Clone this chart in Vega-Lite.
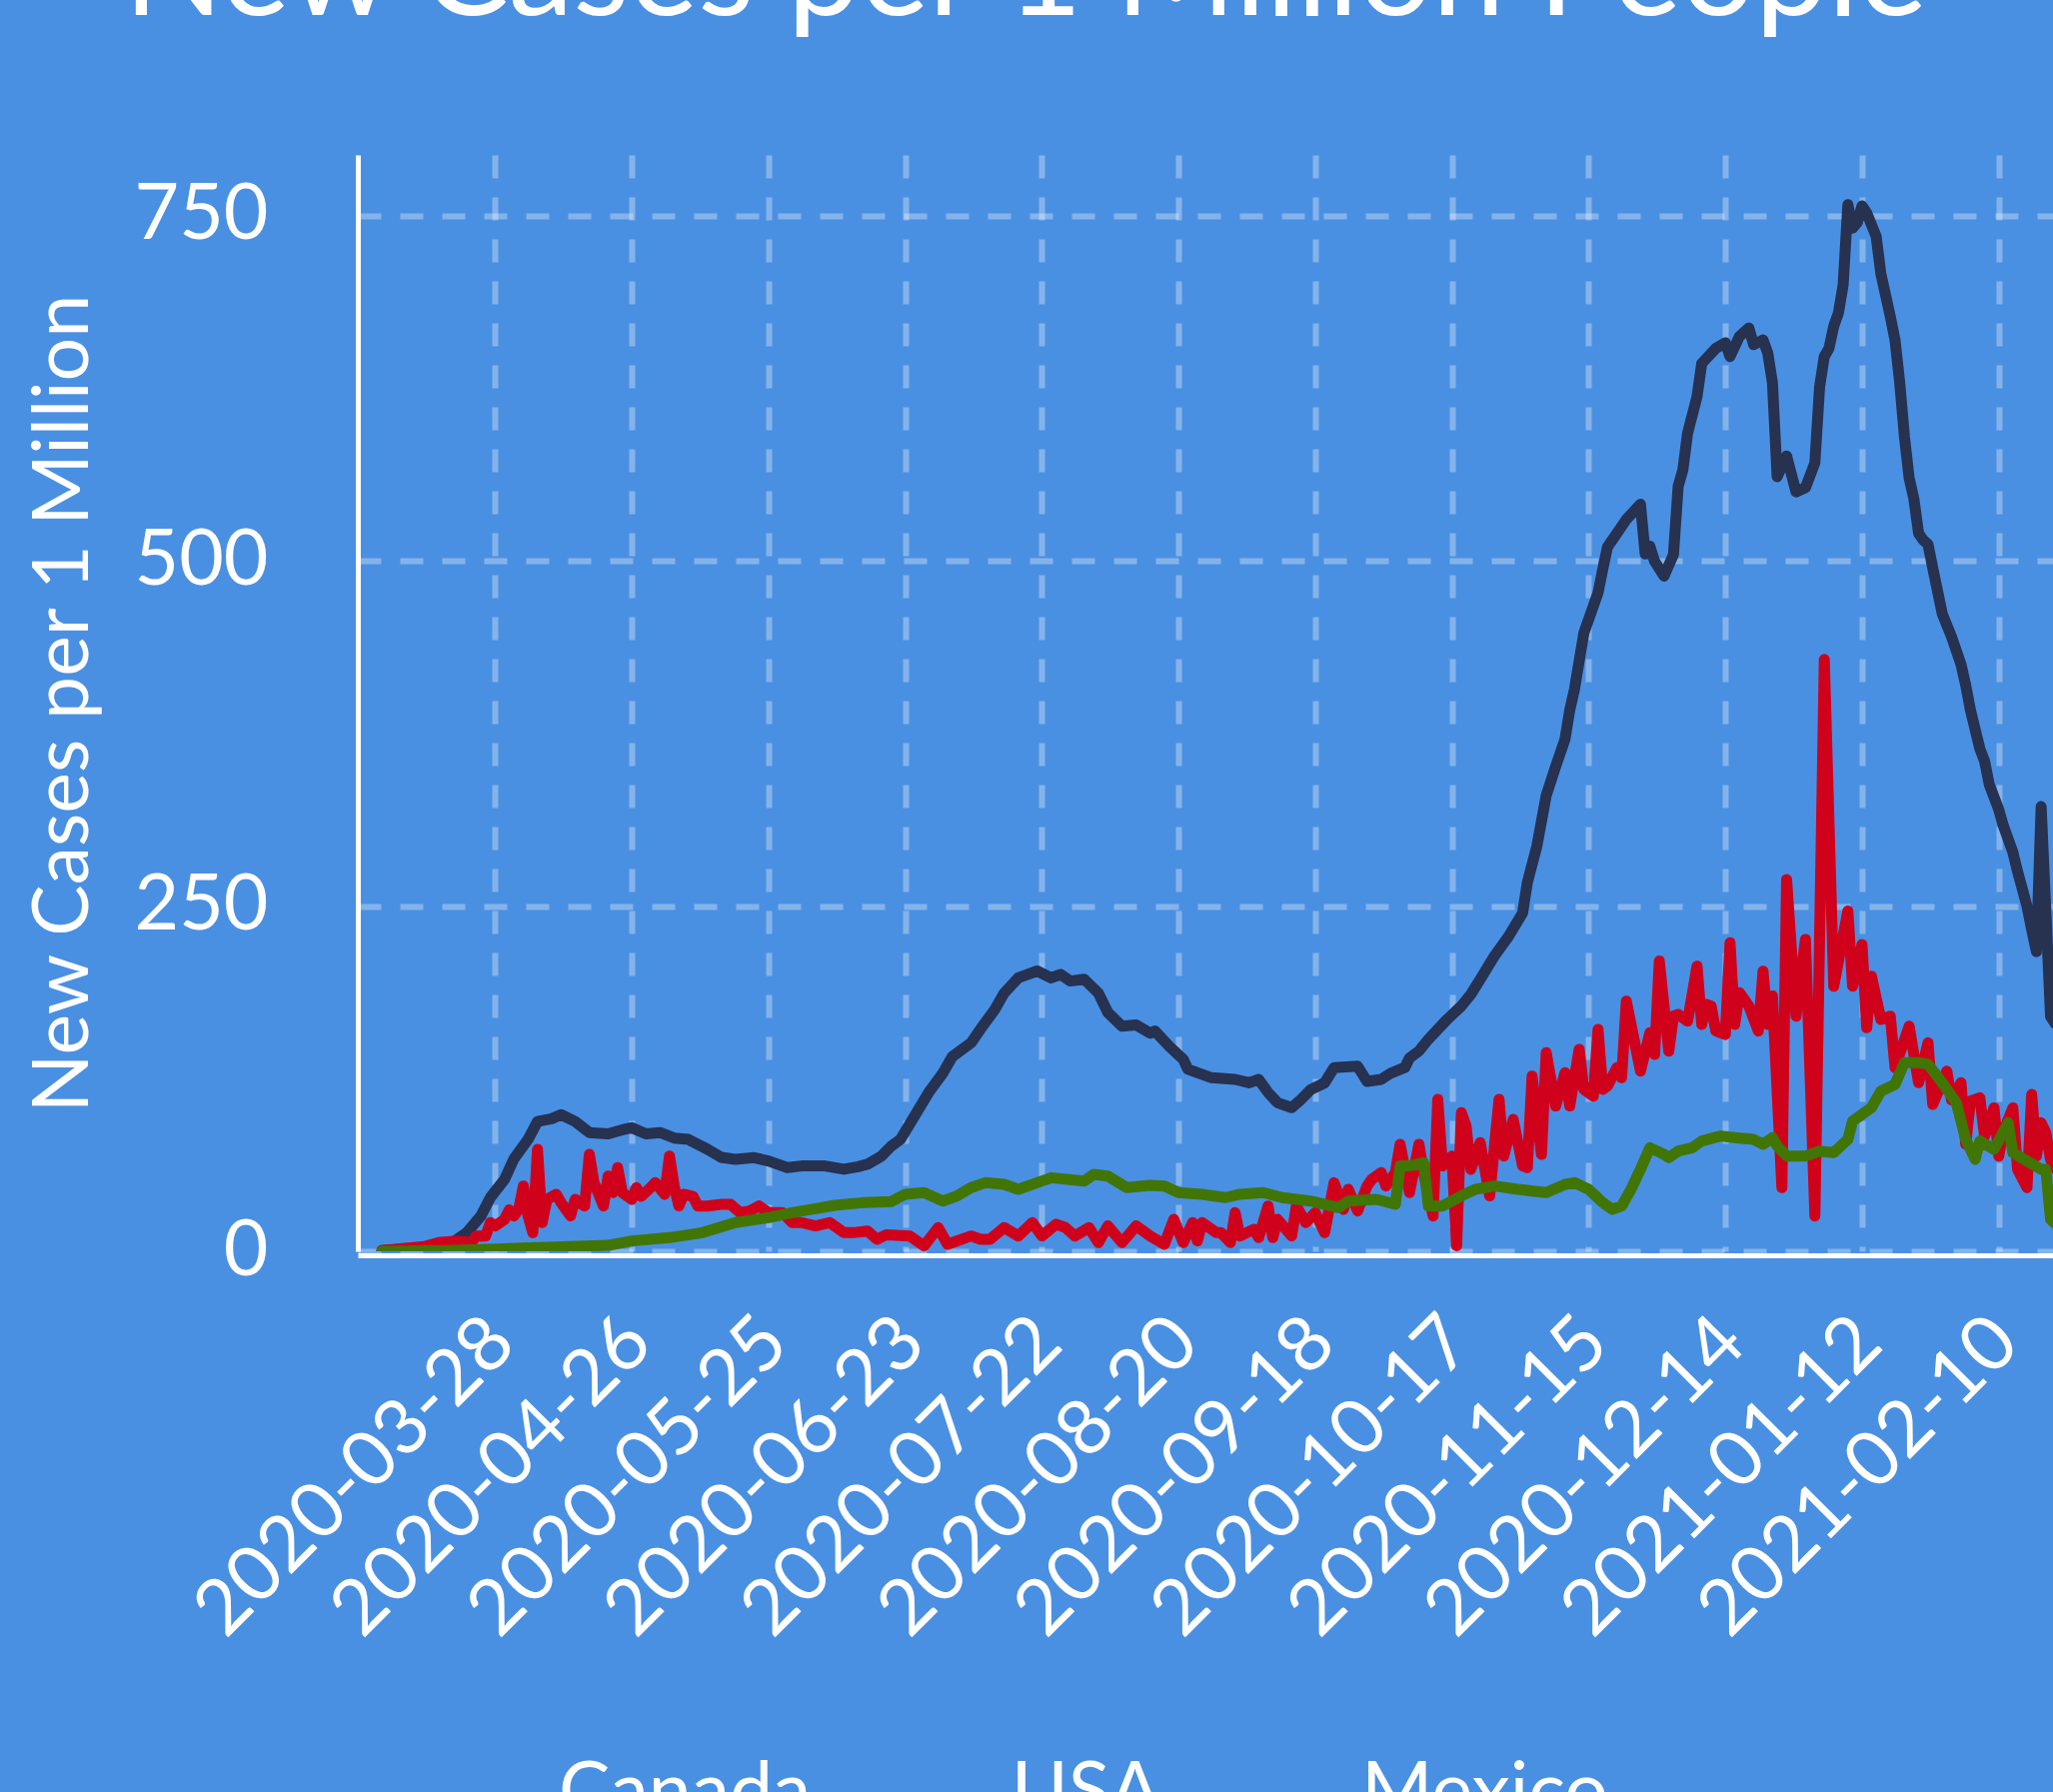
{
"$schema": "https://vega.github.io/schema/vega-lite/v6.json",
"width": 1696, "height": 1097,
"autosize": {"type": "none"},
"padding": {"left": 358, "top": 155, "right": 0, "bottom": 541},
"background": "#4a90e2",
"title": {"text": "New Cases per 1 Million People", "font": "Lato", "fontSize": 130, "fontWeight": "normal", "color": "white", "anchor": "middle", "frame": "group", "dx": -180, "baseline": "alphabetic", "offset": 10, "limit": 0},
"config": {"view": {"stroke": null}, "font": "Lato"},
"data": {"values": [
{"country":"USA","date":"2020-03-04","cases":0.5},{"country":"USA","date":"2020-03-14","cases":2.7},{"country":"USA","date":"2020-03-19","cases":6.3},{"country":"USA","date":"2020-03-22","cases":13.5},{"country":"USA","date":"2020-03-25","cases":25.6},{"country":"USA","date":"2020-03-27","cases":38.9},{"country":"USA","date":"2020-03-30","cases":52},{"country":"USA","date":"2020-04-01","cases":67},{"country":"USA","date":"2020-04-04","cases":81},{"country":"USA","date":"2020-04-06","cases":94},{"country":"USA","date":"2020-04-09","cases":96},{"country":"USA","date":"2020-04-11","cases":99},{"country":"USA","date":"2020-04-14","cases":94},{"country":"USA","date":"2020-04-17","cases":86},{"country":"USA","date":"2020-04-21","cases":85},{"country":"USA","date":"2020-04-24","cases":88},{"country":"USA","date":"2020-04-26","cases":89.5},{"country":"USA","date":"2020-04-29","cases":85},{"country":"USA","date":"2020-05-02","cases":86},{"country":"USA","date":"2020-05-05","cases":82},{"country":"USA","date":"2020-05-08","cases":81},{"country":"USA","date":"2020-05-12","cases":74},{"country":"USA","date":"2020-05-15","cases":68},{"country":"USA","date":"2020-05-18","cases":66.6},{"country":"USA","date":"2020-05-22","cases":67.8},{"country":"USA","date":"2020-05-25","cases":65.4},{"country":"USA","date":"2020-05-29","cases":60.6},{"country":"USA","date":"2020-06-01","cases":61.8},{"country":"USA","date":"2020-06-06","cases":61.8},{"country":"USA","date":"2020-06-10","cases":59.4},{"country":"USA","date":"2020-06-13","cases":61.3},{"country":"USA","date":"2020-06-15","cases":63},{"country":"USA","date":"2020-06-18","cases":69},{"country":"USA","date":"2020-06-20","cases":76},{"country":"USA","date":"2020-06-22","cases":81},{"country":"USA","date":"2020-06-25","cases":98},{"country":"USA","date":"2020-06-28","cases":115},{"country":"USA","date":"2020-07-01","cases":129},{"country":"USA","date":"2020-07-03","cases":141},{"country":"USA","date":"2020-07-07","cases":151},{"country":"USA","date":"2020-07-09","cases":161},{"country":"USA","date":"2020-07-12","cases":175},{"country":"USA","date":"2020-07-14","cases":187},{"country":"USA","date":"2020-07-17","cases":198},{"country":"USA","date":"2020-07-21","cases":203},{"country":"USA","date":"2020-07-24","cases":198},{"country":"USA","date":"2020-07-26","cases":200.5},{"country":"USA","date":"2020-07-28","cases":195.7},{"country":"USA","date":"2020-07-31","cases":197},{"country":"USA","date":"2020-08-03","cases":187},{"country":"USA","date":"2020-08-05","cases":173},{"country":"USA","date":"2020-08-08","cases":163},{"country":"USA","date":"2020-08-11","cases":164},{"country":"USA","date":"2020-08-14","cases":158},{"country":"USA","date":"2020-08-15","cases":159.5},{"country":"USA","date":"2020-08-18","cases":148.6},{"country":"USA","date":"2020-08-21","cases":139},{"country":"USA","date":"2020-08-22","cases":131.8},{"country":"USA","date":"2020-08-27","cases":125.7},{"country":"USA","date":"2020-09-01","cases":124.5},{"country":"USA","date":"2020-09-04","cases":122},{"country":"USA","date":"2020-09-06","cases":124.5},{"country":"USA","date":"2020-09-08","cases":115},{"country":"USA","date":"2020-09-10","cases":107.6},{"country":"USA","date":"2020-09-13","cases":104},{"country":"USA","date":"2020-09-15","cases":110},{"country":"USA","date":"2020-09-17","cases":117},{"country":"USA","date":"2020-09-20","cases":122},{"country":"USA","date":"2020-09-22","cases":133},{"country":"USA","date":"2020-09-27","cases":134},{"country":"USA","date":"2020-09-29","cases":123},{"country":"USA","date":"2020-10-02","cases":124.5},{"country":"USA","date":"2020-10-04","cases":129},{"country":"USA","date":"2020-10-07","cases":133},{"country":"USA","date":"2020-10-08","cases":140},{"country":"USA","date":"2020-10-10","cases":145},{"country":"USA","date":"2020-10-12","cases":153.5},{"country":"USA","date":"2020-10-16","cases":168},{"country":"USA","date":"2020-10-19","cases":177.6},{"country":"USA","date":"2020-10-21","cases":186},{"country":"USA","date":"2020-10-23","cases":197},{"country":"USA","date":"2020-10-26","cases":213.8},{"country":"USA","date":"2020-10-29","cases":228},{"country":"USA","date":"2020-11-01","cases":245},{"country":"USA","date":"2020-11-02","cases":267},{"country":"USA","date":"2020-11-04","cases":293},{"country":"USA","date":"2020-11-06","cases":330},{"country":"USA","date":"2020-11-08","cases":351},{"country":"USA","date":"2020-11-10","cases":371},{"country":"USA","date":"2020-11-11","cases":392},{"country":"USA","date":"2020-11-12","cases":407},{"country":"USA","date":"2020-11-14","cases":448},{"country":"USA","date":"2020-11-15","cases":457.5},{"country":"USA","date":"2020-11-17","cases":477},{"country":"USA","date":"2020-11-18","cases":494},{"country":"USA","date":"2020-11-19","cases":510},{"country":"USA","date":"2020-11-21","cases":520},{"country":"USA","date":"2020-11-23","cases":530},{"country":"USA","date":"2020-11-26","cases":541},{"country":"USA","date":"2020-11-27","cases":505},{"country":"USA","date":"2020-11-28","cases":510.6},{"country":"USA","date":"2020-11-29","cases":499.7},{"country":"USA","date":"2020-12-01","cases":489},{"country":"USA","date":"2020-12-03","cases":504.6},{"country":"USA","date":"2020-12-04","cases":554},{"country":"USA","date":"2020-12-05","cases":566},{"country":"USA","date":"2020-12-06","cases":592.6},{"country":"USA","date":"2020-12-08","cases":619},{"country":"USA","date":"2020-12-09","cases":643},{"country":"USA","date":"2020-12-12","cases":654},{"country":"USA","date":"2020-12-14","cases":658},{"country":"USA","date":"2020-12-15","cases":648},{"country":"USA","date":"2020-12-17","cases":662.6},{"country":"USA","date":"2020-12-19","cases":668.6},{"country":"USA","date":"2020-12-20","cases":656.6},{"country":"USA","date":"2020-12-22","cases":660},{"country":"USA","date":"2020-12-23","cases":650.6},{"country":"USA","date":"2020-12-24","cases":629},{"country":"USA","date":"2020-12-25","cases":561},{"country":"USA","date":"2020-12-27","cases":576},{"country":"USA","date":"2020-12-29","cases":550},{"country":"USA","date":"2020-12-31","cases":553},{"country":"USA","date":"2021-01-02","cases":571},{"country":"USA","date":"2021-01-03","cases":626},{"country":"USA","date":"2021-01-04","cases":648},{"country":"USA","date":"2021-01-05","cases":654},{"country":"USA","date":"2021-01-06","cases":670},{"country":"USA","date":"2021-01-07","cases":679.5},{"country":"USA","date":"2021-01-08","cases":700},{"country":"USA","date":"2021-01-09","cases":758},{"country":"USA","date":"2021-01-10","cases":741},{"country":"USA","date":"2021-01-11","cases":745},{"country":"USA","date":"2021-01-12","cases":757},{"country":"USA","date":"2021-01-13","cases":752},{"country":"USA","date":"2021-01-15","cases":735},{"country":"USA","date":"2021-01-16","cases":708},{"country":"USA","date":"2021-01-18","cases":677},{"country":"USA","date":"2021-01-19","cases":660},{"country":"USA","date":"2021-01-20","cases":629},{"country":"USA","date":"2021-01-21","cases":590},{"country":"USA","date":"2021-01-22","cases":560},{"country":"USA","date":"2021-01-23","cases":545},{"country":"USA","date":"2021-01-24","cases":520},{"country":"USA","date":"2021-01-25","cases":515},{"country":"USA","date":"2021-01-26","cases":512},{"country":"USA","date":"2021-01-27","cases":495},{"country":"USA","date":"2021-01-29","cases":462},{"country":"USA","date":"2021-01-31","cases":445},{"country":"USA","date":"2021-02-02","cases":425},{"country":"USA","date":"2021-02-03","cases":410},{"country":"USA","date":"2021-02-04","cases":392},{"country":"USA","date":"2021-02-06","cases":364},{"country":"USA","date":"2021-02-07","cases":355},{"country":"USA","date":"2021-02-08","cases":338},{"country":"USA","date":"2021-02-10","cases":320},{"country":"USA","date":"2021-02-11","cases":308},{"country":"USA","date":"2021-02-13","cases":289},{"country":"USA","date":"2021-02-14","cases":275},{"country":"USA","date":"2021-02-16","cases":250},{"country":"USA","date":"2021-02-17","cases":233},{"country":"USA","date":"2021-02-18","cases":217},{"country":"USA","date":"2021-02-19","cases":322},{"country":"USA","date":"2021-02-21","cases":170},{"country":"USA","date":"2021-02-22","cases":165},
{"country":"Canada","date":"2020-03-04","cases":0.5},{"country":"Canada","date":"2020-03-13","cases":3.4},{"country":"Canada","date":"2020-03-16","cases":6.3},{"country":"Canada","date":"2020-03-20","cases":7.5},{"country":"Canada","date":"2020-03-23","cases":6.3},{"country":"Canada","date":"2020-03-24","cases":11},{"country":"Canada","date":"2020-03-26","cases":11},{"country":"Canada","date":"2020-03-27","cases":20.8},{"country":"Canada","date":"2020-03-28","cases":18.4},{"country":"Canada","date":"2020-03-30","cases":23},{"country":"Canada","date":"2020-03-31","cases":30},{"country":"Canada","date":"2020-04-01","cases":25.6},{"country":"Canada","date":"2020-04-02","cases":30.4},{"country":"Canada","date":"2020-04-03","cases":47.3},{"country":"Canada","date":"2020-04-04","cases":25.6},{"country":"Canada","date":"2020-04-05","cases":13.5},{"country":"Canada","date":"2020-04-06","cases":73.8},{"country":"Canada","date":"2020-04-07","cases":20.8},{"country":"Canada","date":"2020-04-08","cases":37.6},{"country":"Canada","date":"2020-04-10","cases":41.3},{"country":"Canada","date":"2020-04-11","cases":35.2},{"country":"Canada","date":"2020-04-13","cases":25.6},{"country":"Canada","date":"2020-04-14","cases":37.6},{"country":"Canada","date":"2020-04-16","cases":32.8},{"country":"Canada","date":"2020-04-17","cases":70.2},{"country":"Canada","date":"2020-04-18","cases":49.7},{"country":"Canada","date":"2020-04-20","cases":32.8},{"country":"Canada","date":"2020-04-21","cases":54.5},{"country":"Canada","date":"2020-04-22","cases":42.5},{"country":"Canada","date":"2020-04-23","cases":60.6},{"country":"Canada","date":"2020-04-24","cases":42.5},{"country":"Canada","date":"2020-04-26","cases":37.6},{"country":"Canada","date":"2020-04-27","cases":46.1},{"country":"Canada","date":"2020-04-28","cases":39.8},{"country":"Canada","date":"2020-04-30","cases":46.1},{"country":"Canada","date":"2020-05-01","cases":49.7},{"country":"Canada","date":"2020-05-03","cases":41.3},{"country":"Canada","date":"2020-05-04","cases":69},{"country":"Canada","date":"2020-05-05","cases":47.3},{"country":"Canada","date":"2020-05-06","cases":32.8},{"country":"Canada","date":"2020-05-07","cases":41.3},{"country":"Canada","date":"2020-05-09","cases":39.8},{"country":"Canada","date":"2020-05-10","cases":32.8},{"country":"Canada","date":"2020-05-12","cases":32.8},{"country":"Canada","date":"2020-05-15","cases":34},{"country":"Canada","date":"2020-05-17","cases":34},{"country":"Canada","date":"2020-05-19","cases":28},{"country":"Canada","date":"2020-05-21","cases":29.2},{"country":"Canada","date":"2020-05-23","cases":32.8},{"country":"Canada","date":"2020-05-25","cases":28},{"country":"Canada","date":"2020-05-28","cases":28},{"country":"Canada","date":"2020-05-30","cases":20.8},{"country":"Canada","date":"2020-06-01","cases":20.8},{"country":"Canada","date":"2020-06-04","cases":18.4},{"country":"Canada","date":"2020-06-07","cases":20.8},{"country":"Canada","date":"2020-06-10","cases":13.5},{"country":"Canada","date":"2020-06-12","cases":13.5},{"country":"Canada","date":"2020-06-15","cases":14.7},{"country":"Canada","date":"2020-06-17","cases":8.7},{"country":"Canada","date":"2020-06-19","cases":12},{"country":"Canada","date":"2020-06-24","cases":11.1},{"country":"Canada","date":"2020-06-27","cases":3.9},{"country":"Canada","date":"2020-06-30","cases":17.2},{"country":"Canada","date":"2020-07-02","cases":5.1},{"country":"Canada","date":"2020-07-07","cases":11.1},{"country":"Canada","date":"2020-07-09","cases":8.7},{"country":"Canada","date":"2020-07-11","cases":8.7},{"country":"Canada","date":"2020-07-14","cases":17.2},{"country":"Canada","date":"2020-07-17","cases":11.1},{"country":"Canada","date":"2020-07-20","cases":20.8},{"country":"Canada","date":"2020-07-22","cases":11.1},{"country":"Canada","date":"2020-07-25","cases":19.6},{"country":"Canada","date":"2020-07-27","cases":17.2},{"country":"Canada","date":"2020-07-29","cases":11.1},{"country":"Canada","date":"2020-08-01","cases":17.2},{"country":"Canada","date":"2020-08-03","cases":6.3},{"country":"Canada","date":"2020-08-05","cases":18.4},{"country":"Canada","date":"2020-08-08","cases":6.3},{"country":"Canada","date":"2020-08-11","cases":18.4},{"country":"Canada","date":"2020-08-14","cases":11.1},{"country":"Canada","date":"2020-08-17","cases":5.1},{"country":"Canada","date":"2020-08-19","cases":23.2},{"country":"Canada","date":"2020-08-21","cases":6.3},{"country":"Canada","date":"2020-08-23","cases":20.8},{"country":"Canada","date":"2020-08-24","cases":7.5},{"country":"Canada","date":"2020-08-25","cases":20.8},{"country":"Canada","date":"2020-08-28","cases":13.5},{"country":"Canada","date":"2020-08-29","cases":13.5},{"country":"Canada","date":"2020-08-31","cases":6.3},{"country":"Canada","date":"2020-09-01","cases":28},{"country":"Canada","date":"2020-09-02","cases":11.1},{"country":"Canada","date":"2020-09-05","cases":16},{"country":"Canada","date":"2020-09-06","cases":9.9},{"country":"Canada","date":"2020-09-08","cases":32.8},{"country":"Canada","date":"2020-09-09","cases":9.9},{"country":"Canada","date":"2020-09-10","cases":23.2},{"country":"Canada","date":"2020-09-13","cases":11.1},{"country":"Canada","date":"2020-09-14","cases":32.8},{"country":"Canada","date":"2020-09-16","cases":20.8},{"country":"Canada","date":"2020-09-18","cases":28},{"country":"Canada","date":"2020-09-20","cases":13.5},{"country":"Canada","date":"2020-09-22","cases":49.7},{"country":"Canada","date":"2020-09-24","cases":30.4},{"country":"Canada","date":"2020-09-25","cases":44.9},{"country":"Canada","date":"2020-09-27","cases":29.2},{"country":"Canada","date":"2020-09-29","cases":47.3},{"country":"Canada","date":"2020-09-30","cases":52.1},{"country":"Canada","date":"2020-10-02","cases":57},{"country":"Canada","date":"2020-10-03","cases":47.3},{"country":"Canada","date":"2020-10-05","cases":57},{"country":"Canada","date":"2020-10-06","cases":77.5},{"country":"Canada","date":"2020-10-08","cases":42.5},{"country":"Canada","date":"2020-10-10","cases":77.5},{"country":"Canada","date":"2020-10-11","cases":57},{"country":"Canada","date":"2020-10-13","cases":25.6},{"country":"Canada","date":"2020-10-14","cases":110},{"country":"Canada","date":"2020-10-15","cases":61.8},{"country":"Canada","date":"2020-10-17","cases":69},{"country":"Canada","date":"2020-10-18","cases":4},{"country":"Canada","date":"2020-10-19","cases":100.4},{"country":"Canada","date":"2020-10-20","cases":90.7},{"country":"Canada","date":"2020-10-21","cases":59.4},{"country":"Canada","date":"2020-10-22","cases":69},{"country":"Canada","date":"2020-10-23","cases":78.7},{"country":"Canada","date":"2020-10-25","cases":40.1},{"country":"Canada","date":"2020-10-27","cases":110},{"country":"Canada","date":"2020-10-28","cases":69},{"country":"Canada","date":"2020-10-30","cases":95.5},{"country":"Canada","date":"2020-11-01","cases":61.8},{"country":"Canada","date":"2020-11-02","cases":60.6},{"country":"Canada","date":"2020-11-03","cases":126.9},{"country":"Canada","date":"2020-11-05","cases":70.2},{"country":"Canada","date":"2020-11-06","cases":143.8},{"country":"Canada","date":"2020-11-08","cases":105.2},{"country":"Canada","date":"2020-11-10","cases":129.4},{"country":"Canada","date":"2020-11-11","cases":105.2},{"country":"Canada","date":"2020-11-13","cases":146.2},{"country":"Canada","date":"2020-11-14","cases":117.3},{"country":"Canada","date":"2020-11-16","cases":112.4},{"country":"Canada","date":"2020-11-17","cases":160.7},{"country":"Canada","date":"2020-11-18","cases":117.3},{"country":"Canada","date":"2020-11-19","cases":119.7},{"country":"Canada","date":"2020-11-21","cases":133},{"country":"Canada","date":"2020-11-22","cases":125.7},{"country":"Canada","date":"2020-11-23","cases":181.2},{"country":"Canada","date":"2020-11-26","cases":130.5},{"country":"Canada","date":"2020-11-28","cases":158.3},{"country":"Canada","date":"2020-11-29","cases":142.6},{"country":"Canada","date":"2020-11-30","cases":210.2},{"country":"Canada","date":"2020-12-02","cases":145},{"country":"Canada","date":"2020-12-03","cases":170.3},{"country":"Canada","date":"2020-12-04","cases":171.6},{"country":"Canada","date":"2020-12-06","cases":166.7},{"country":"Canada","date":"2020-12-08","cases":206.5},{"country":"Canada","date":"2020-12-09","cases":164.3},{"country":"Canada","date":"2020-12-10","cases":178.8},{"country":"Canada","date":"2020-12-11","cases":177.6},{"country":"Canada","date":"2020-12-12","cases":159.5},{"country":"Canada","date":"2020-12-14","cases":157.1},{"country":"Canada","date":"2020-12-15","cases":223.4},{"country":"Canada","date":"2020-12-16","cases":164.3},{"country":"Canada","date":"2020-12-17","cases":187.3},{"country":"Canada","date":"2020-12-19","cases":177.6},{"country":"Canada","date":"2020-12-21","cases":159.5},{"country":"Canada","date":"2020-12-22","cases":202.9},{"country":"Canada","date":"2020-12-23","cases":164.3},{"country":"Canada","date":"2020-12-24","cases":185},{"country":"Canada","date":"2020-12-26","cases":46.1},{"country":"Canada","date":"2020-12-27","cases":269.3},{"country":"Canada","date":"2020-12-29","cases":170.3},{"country":"Canada","date":"2020-12-31","cases":225.9},{"country":"Canada","date":"2021-01-02","cases":25.6},{"country":"Canada","date":"2021-01-04","cases":428.6},{"country":"Canada","date":"2021-01-06","cases":192},{"country":"Canada","date":"2021-01-09","cases":246.4},{"country":"Canada","date":"2021-01-10","cases":192},{"country":"Canada","date":"2021-01-12","cases":222.2},{"country":"Canada","date":"2021-01-13","cases":161.9},{"country":"Canada","date":"2021-01-14","cases":199.3},{"country":"Canada","date":"2021-01-16","cases":167.9},{"country":"Canada","date":"2021-01-18","cases":170.3},{"country":"Canada","date":"2021-01-19","cases":133},{"country":"Canada","date":"2021-01-22","cases":163.1},{"country":"Canada","date":"2021-01-24","cases":122.1},{"country":"Canada","date":"2021-01-26","cases":151},{"country":"Canada","date":"2021-01-27","cases":106.4},{"country":"Canada","date":"2021-01-30","cases":130.5},{"country":"Canada","date":"2021-01-31","cases":109.6},{"country":"Canada","date":"2021-02-02","cases":122.1},{"country":"Canada","date":"2021-02-03","cases":77.5},{"country":"Canada","date":"2021-02-04","cases":108.8},{"country":"Canada","date":"2021-02-06","cases":111.2},{"country":"Canada","date":"2021-02-07","cases":83.5},{"country":"Canada","date":"2021-02-09","cases":103.9},{"country":"Canada","date":"2021-02-10","cases":69},{"country":"Canada","date":"2021-02-11","cases":87.1},{"country":"Canada","date":"2021-02-13","cases":103.9},{"country":"Canada","date":"2021-02-14","cases":59.4},{"country":"Canada","date":"2021-02-16","cases":46.1},{"country":"Canada","date":"2021-02-17","cases":113.6},{"country":"Canada","date":"2021-02-18","cases":69},{"country":"Canada","date":"2021-02-19","cases":93.1},{"country":"Canada","date":"2021-02-20","cases":85.9},{"country":"Canada","date":"2021-02-21","cases":66.6},{"country":"Canada","date":"2021-02-22","cases":60},
{"country":"Mexico","date":"2020-03-04","cases":0},{"country":"Mexico","date":"2020-03-18","cases":0.5},{"country":"Mexico","date":"2020-03-30","cases":1.9},{"country":"Mexico","date":"2020-04-13","cases":3.4},{"country":"Mexico","date":"2020-04-21","cases":4.3},{"country":"Mexico","date":"2020-04-26","cases":7.5},{"country":"Mexico","date":"2020-05-04","cases":9.9},{"country":"Mexico","date":"2020-05-11","cases":13.5},{"country":"Mexico","date":"2020-05-18","cases":20.8},{"country":"Mexico","date":"2020-05-25","cases":24.4},{"country":"Mexico","date":"2020-05-30","cases":28},{"country":"Mexico","date":"2020-06-04","cases":30.9},{"country":"Mexico","date":"2020-06-08","cases":33.3},{"country":"Mexico","date":"2020-06-14","cases":35.2},{"country":"Mexico","date":"2020-06-20","cases":36},{"country":"Mexico","date":"2020-06-23","cases":41.3},{"country":"Mexico","date":"2020-06-27","cases":42.5},{"country":"Mexico","date":"2020-07-01","cases":36.4},{"country":"Mexico","date":"2020-07-04","cases":40.1},{"country":"Mexico","date":"2020-07-07","cases":46.1},{"country":"Mexico","date":"2020-07-10","cases":49.7},{"country":"Mexico","date":"2020-07-14","cases":48.5},{"country":"Mexico","date":"2020-07-17","cases":44.9},{"country":"Mexico","date":"2020-07-21","cases":49.7},{"country":"Mexico","date":"2020-07-24","cases":53.3},{"country":"Mexico","date":"2020-07-31","cases":50.9},{"country":"Mexico","date":"2020-08-02","cases":55.7},{"country":"Mexico","date":"2020-08-05","cases":54.5},{"country":"Mexico","date":"2020-08-09","cases":46.1},{"country":"Mexico","date":"2020-08-14","cases":47.8},{"country":"Mexico","date":"2020-08-17","cases":47.3},{"country":"Mexico","date":"2020-08-20","cases":42.5},{"country":"Mexico","date":"2020-08-25","cases":41.3},{"country":"Mexico","date":"2020-08-30","cases":38.9},{"country":"Mexico","date":"2020-09-02","cases":41.3},{"country":"Mexico","date":"2020-09-07","cases":42.5},{"country":"Mexico","date":"2020-09-11","cases":38.9},{"country":"Mexico","date":"2020-09-17","cases":36.4},{"country":"Mexico","date":"2020-09-23","cases":31.6},{"country":"Mexico","date":"2020-09-25","cases":36.4},{"country":"Mexico","date":"2020-10-01","cases":37.6},{"country":"Mexico","date":"2020-10-05","cases":34},{"country":"Mexico","date":"2020-10-06","cases":61.8},{"country":"Mexico","date":"2020-10-08","cases":61.8},{"country":"Mexico","date":"2020-10-11","cases":64.2},{"country":"Mexico","date":"2020-10-12","cases":32.8},{"country":"Mexico","date":"2020-10-15","cases":32.8},{"country":"Mexico","date":"2020-10-19","cases":40.1},{"country":"Mexico","date":"2020-10-22","cases":44.9},{"country":"Mexico","date":"2020-10-26","cases":47.3},{"country":"Mexico","date":"2020-10-31","cases":44.9},{"country":"Mexico","date":"2020-11-06","cases":42.5},{"country":"Mexico","date":"2020-11-10","cases":48.5},{"country":"Mexico","date":"2020-11-12","cases":49.7},{"country":"Mexico","date":"2020-11-15","cases":44.9},{"country":"Mexico","date":"2020-11-18","cases":35.2},{"country":"Mexico","date":"2020-11-20","cases":30.4},{"country":"Mexico","date":"2020-11-22","cases":32.8},{"country":"Mexico","date":"2020-11-24","cases":44.9},{"country":"Mexico","date":"2020-11-26","cases":59.4},{"country":"Mexico","date":"2020-11-28","cases":75},{"country":"Mexico","date":"2020-12-01","cases":70.2},{"country":"Mexico","date":"2020-12-02","cases":67.8},{"country":"Mexico","date":"2020-12-04","cases":72.6},{"country":"Mexico","date":"2020-12-07","cases":75},{"country":"Mexico","date":"2020-12-09","cases":79.9},{"country":"Mexico","date":"2020-12-13","cases":83.5},{"country":"Mexico","date":"2020-12-16","cases":82.3},{"country":"Mexico","date":"2020-12-20","cases":81},{"country":"Mexico","date":"2020-12-22","cases":77.5},{"country":"Mexico","date":"2020-12-24","cases":82.3},{"country":"Mexico","date":"2020-12-25","cases":76.3},{"country":"Mexico","date":"2020-12-27","cases":69},{"country":"Mexico","date":"2020-12-31","cases":69},{"country":"Mexico","date":"2021-01-03","cases":72.6},{"country":"Mexico","date":"2021-01-06","cases":71.4},{"country":"Mexico","date":"2021-01-09","cases":81},{"country":"Mexico","date":"2021-01-10","cases":94.3},{"country":"Mexico","date":"2021-01-14","cases":104},{"country":"Mexico","date":"2021-01-16","cases":116},{"country":"Mexico","date":"2021-01-19","cases":120.9},{"country":"Mexico","date":"2021-01-21","cases":136.6},{"country":"Mexico","date":"2021-01-24","cases":136.6},{"country":"Mexico","date":"2021-01-26","cases":135.4},{"country":"Mexico","date":"2021-01-29","cases":122.1},{"country":"Mexico","date":"2021-02-01","cases":107.6},{"country":"Mexico","date":"2021-02-03","cases":81},{"country":"Mexico","date":"2021-02-05","cases":66.6},{"country":"Mexico","date":"2021-02-06","cases":79.9},{"country":"Mexico","date":"2021-02-09","cases":73.8},{"country":"Mexico","date":"2021-02-12","cases":93.1},{"country":"Mexico","date":"2021-02-13","cases":71.4},{"country":"Mexico","date":"2021-02-16","cases":65.4},{"country":"Mexico","date":"2021-02-19","cases":59.4},{"country":"Mexico","date":"2021-02-20","cases":59.4},{"country":"Mexico","date":"2021-02-21","cases":23.2},{"country":"Mexico","date":"2021-02-22","cases":20}
]},
"mark": {"type": "line", "strokeWidth": 11, "strokeCap": "round", "strokeJoin": "round", "clip": true},
"encoding": {
 "x": {"field": "date", "type": "temporal",
  "scale": {"type": "utc", "domain": [{"year": 2020, "month": 2, "date": 27, "hours": 21, "minutes": 20, "utc": true}, {"year": 2021, "month": 2, "date": 21, "hours": 12, "minutes": 25, "utc": true}]},
  "axis": {"title": null, "format": "%Y-%m-%d", "labelAngle": -45, "labelFont": "Lato", "labelFontSize": 77, "labelColor": "white", "labelPadding": 48, "labelOffset": -20, "labelLimit": 0, "ticks": false, "tickSize": 0, "domainColor": "white", "domainWidth": 5, "offset": 4, "grid": true, "gridColor": "white", "gridOpacity": 0.32, "gridWidth": 6, "gridDash": [23, 19], "labelOverlap": false, "labelBound": false, "labelFlush": false,
   "values": [{"year": 2020, "month": 3, "date": 28, "utc": true}, {"year": 2020, "month": 4, "date": 26, "utc": true}, {"year": 2020, "month": 5, "date": 25, "utc": true}, {"year": 2020, "month": 6, "date": 23, "utc": true}, {"year": 2020, "month": 7, "date": 22, "utc": true}, {"year": 2020, "month": 8, "date": 20, "utc": true}, {"year": 2020, "month": 9, "date": 18, "utc": true}, {"year": 2020, "month": 10, "date": 17, "utc": true}, {"year": 2020, "month": 11, "date": 15, "utc": true}, {"year": 2020, "month": 12, "date": 14, "utc": true}, {"year": 2021, "month": 1, "date": 12, "utc": true}, {"year": 2021, "month": 2, "date": 10, "utc": true}]}},
 "y": {"field": "cases", "type": "quantitative", "scale": {"domain": [0, 794], "nice": false, "zero": true},
  "axis": {"title": "New Cases per 1 Million", "titleFont": "Lato", "titleFontSize": 77, "titleFontWeight": "normal", "titleColor": "white", "titleAngle": -90, "titleX": -270.5, "titleY": 548.5, "titleAlign": "center", "titleBaseline": "alphabetic", "titleLimit": 0, "values": [0, 250, 500, 750], "labelFont": "Lato", "labelFontSize": 77, "labelColor": "white", "labelPadding": 90, "ticks": false, "tickSize": 0, "domainColor": "white", "domainWidth": 5, "grid": true, "gridColor": "white", "gridOpacity": 0.32, "gridWidth": 6, "gridDash": [23, 19]}},
 "color": {"field": "country", "type": "nominal", "scale": {"domain": ["Canada", "USA", "Mexico"], "range": ["#d0021b", "#273150", "#417505"]},
  "legend": {"orient": "none", "legendX": 124, "legendY": 1601, "direction": "horizontal", "gridAlign": "none", "title": null, "labelFont": "Lato", "labelFontSize": 77, "labelColor": "white", "labelLimit": 0, "symbolOpacity": 0, "symbolSize": 1, "symbolStrokeWidth": 0, "labelOffset": 0, "columnPadding": 123, "padding": 0}}
}
}
